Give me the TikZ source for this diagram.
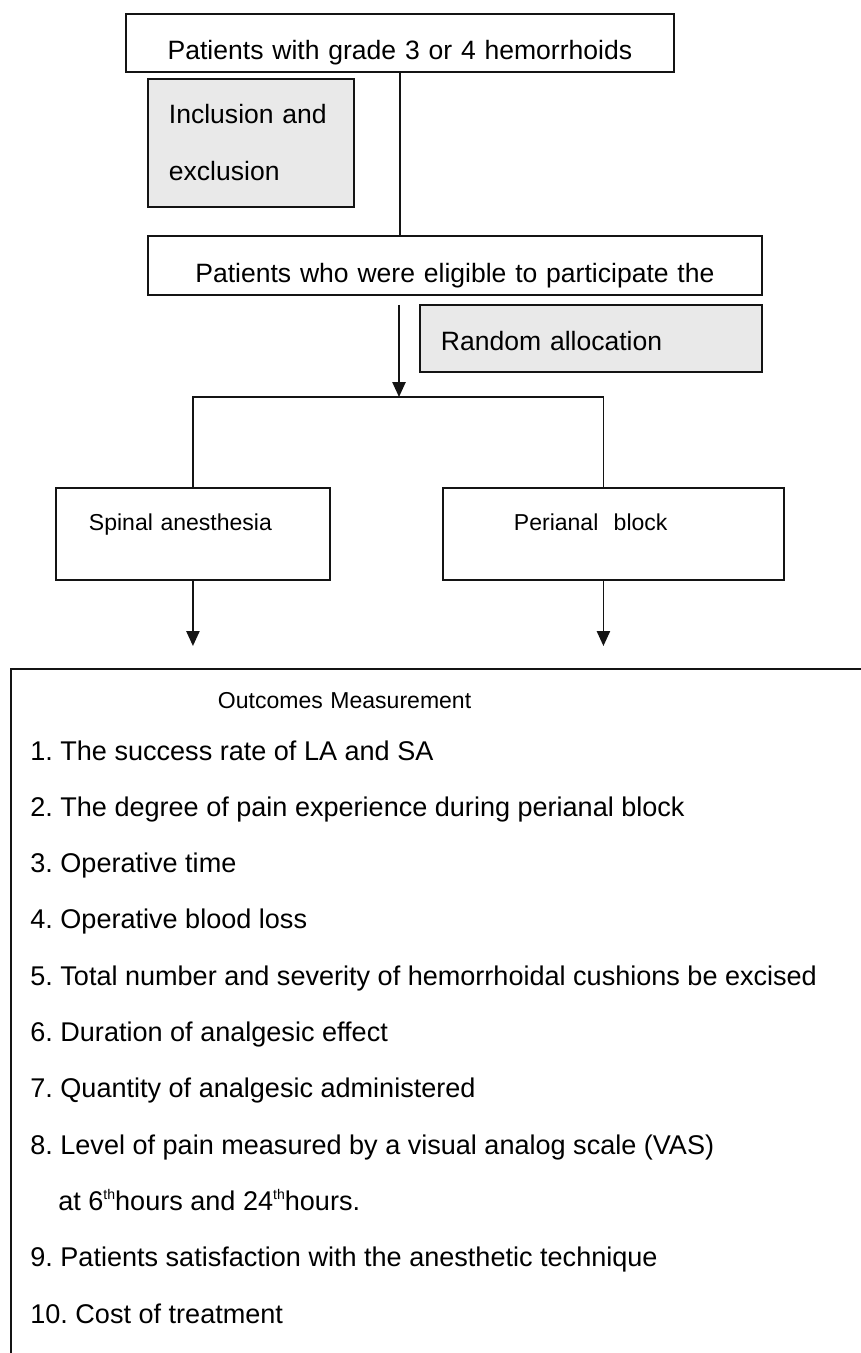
\documentclass[tikz,border=0pt]{standalone}
\usepackage{fontspec}
\setmainfont{Liberation Sans}
\usepackage{xcolor}
\usepackage{tikz}
\usetikzlibrary{arrows.meta,calc}
\definecolor{BoxGray}{RGB}{233,233,233}
\definecolor{LineInk}{RGB}{20,20,20}
\newcommand{\bigtxt}{\fontsize{15.1pt}{32.4pt}\selectfont}
\newcommand{\listtxt}{\fontsize{15.4pt}{18pt}\selectfont}
\newcommand{\smalltxt}{\fontsize{13.1pt}{16pt}\selectfont}
\newcommand{\thsup}{\raisebox{0.75ex}{\fontsize{8pt}{8pt}\selectfont th}}
\frenchspacing

\begin{document}
\begin{tikzpicture}[x=0.02cm,y=-0.02cm,>={Triangle[length=8.5pt,width=7.5pt]},
  flowbox/.style={draw=LineInk,line width=1.1pt,inner sep=0pt,anchor=north west,font=\bigtxt},
  grayfill/.style={fill=BoxGray},
  link/.style={draw=LineInk,line width=1pt},
  item/.style={anchor=base west,inner sep=0pt,font=\listtxt}]
  \useasboundingbox (0,0) rectangle (860,1353);
  % flow boxes
  \node[flowbox,text width=10.96cm,align=center,text height=0.92cm,text depth=0.24cm]
    (topbox) at (125,13) {Patients with grade 3 or 4 hemorrhoids};
  \node[flowbox,grayfill,text width=3.28cm,inner xsep=0.42cm,minimum height=2.56cm,align=left]
    (incl) at (147,78) {Inclusion and\\exclusion};
  \node[flowbox,text width=12.28cm,align=center,text height=0.94cm,text depth=0.24cm]
    (elig) at (147,235) {Patients who were eligible to participate the};
  \node[flowbox,grayfill,text width=6cm,inner xsep=0.42cm,align=left,text height=0.92cm,text depth=0.42cm]
    (rand) at (419,304) {Random allocation};
  \node[flowbox,font=\smalltxt,text width=4.16cm,inner xsep=0.66cm,align=left,text height=0.86cm,text depth=0.98cm]
    (spinal) at (55,487) {Spinal anesthesia};
  \node[flowbox,font=\smalltxt,text width=3.98cm,inner xsep=1.42cm,align=left,text height=0.86cm,text depth=0.98cm]
    (perianal) at (442,487) {Perianal\ \ block};
  \node[flowbox,font=\smalltxt,text width=18cm,align=left,text height=0.8cm,text depth=16cm]
    (outcomes) at (10,668) {\hspace*{4.14cm}Outcomes Measurement};
  % connectors
  \coordinate (split) at (399,397);
  \coordinate (pT) at ($(perianal.north)+(-10,0)$);
  \coordinate (pB) at ($(perianal.south)+(-10,0)$);
  \draw[link] (topbox.south) -- (topbox.south |- elig.north);
  \draw[link,->] ($(elig.south -| split)+(0,9)$) -- (split);
  \draw[link] (spinal.north) |- (split) -| (pT);
  \draw[link,->,shorten >=0.44cm] (spinal.south) -- (spinal.south |- outcomes.north);
  \draw[link,->,shorten >=0.44cm] (pB) -- (pB |- outcomes.north);
  % outcome list
  \foreach \k/\txt in {0/{1. The success rate of LA and SA},
      1/{2. The degree of pain experience during perianal block},
      2/{3. Operative time},
      3/{4. Operative blood loss},
      4/{5. Total number and severity of hemorrhoidal cushions be excised},
      5/{6. Duration of analgesic effect},
      6/{7. Quantity of analgesic administered},
      7/{8. Level of pain measured by a visual analog scale (VAS)},
      9/{9. Patients satisfaction with the anesthetic technique},
      10/{10. Cost of treatment}}
    \node[item] (item\k) at (30,{760+56.3*\k}) {\txt};
  \node[item] (item8b) at (58,{760+56.3*8})
    {at 6\thsup hours and 24\thsup hours.};
\end{tikzpicture}
\end{document}
